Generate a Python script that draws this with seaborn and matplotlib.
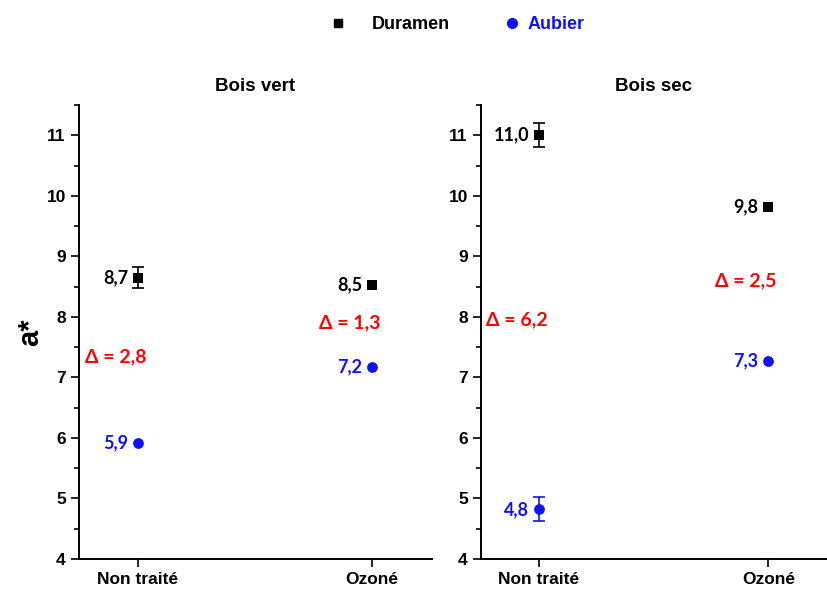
import matplotlib
matplotlib.use("Agg")
import matplotlib.pyplot as plt
from matplotlib.lines import Line2D
from matplotlib.ticker import MultipleLocator
import pandas as pd
import seaborn as sns

traitements = ["Non traité", "Ozoné"]
panneaux = ["Bois vert", "Bois sec"]

# a* values
duramen_vert = [8.65, 8.53]
duramen_vert_err = [0.18, 0.0]
aubier_vert = [5.92, 7.17]
aubier_vert_err = [0.0, 0.0]
duramen_sec = [11.0, 9.82]
duramen_sec_err = [0.2, 0.0]
aubier_sec = [4.82, 7.27]
aubier_sec_err = [0.2, 0.0]

# labels shown next to the points
lab_duramen_vert = ["8,7", "8,5"]
lab_aubier_vert = ["5,9", "7,2"]
lab_duramen_sec = ["11,0", "9,8"]
lab_aubier_sec = ["4,8", "7,3"]
delta_vert = ["2,8", "1,3"]
delta_sec = ["6,2", "2,5"]

rows = []
for panneau, dur, dur_e, aub, aub_e, ld, la, dl in [
    ("Bois vert", duramen_vert, duramen_vert_err, aubier_vert, aubier_vert_err,
     lab_duramen_vert, lab_aubier_vert, delta_vert),
    ("Bois sec", duramen_sec, duramen_sec_err, aubier_sec, aubier_sec_err,
     lab_duramen_sec, lab_aubier_sec, delta_sec),
]:
    for i, t in enumerate(traitements):
        rows.append(dict(panneau=panneau, traitement=t, pos=i, bois="Duramen",
                         a=dur[i], err=dur_e[i], label=ld[i], delta=dl[i]))
        rows.append(dict(panneau=panneau, traitement=t, pos=i, bois="Aubier",
                         a=aub[i], err=aub_e[i], label=la[i], delta=dl[i]))
df = pd.DataFrame(rows)

sns.set_style("ticks")
plt.rcParams["font.family"] = ["Liberation Sans", "DejaVu Sans"]
plt.rcParams["text.color"] = "black"
plt.rcParams["axes.labelcolor"] = "black"
plt.rcParams["axes.edgecolor"] = "black"
plt.rcParams["xtick.color"] = "black"
plt.rcParams["ytick.color"] = "black"

couleurs = {"Duramen": "black", "Aubier": "#1010ff"}
marqueurs = {"Duramen": "s", "Aubier": "o"}
tailles = {"Duramen": 45, "Aubier": 60}

fig = plt.figure(figsize=(8.27, 5.92), dpi=100)
ax1 = fig.add_axes([0.0955, 0.0557, 0.4268, 0.767])
ax2 = fig.add_axes([0.5816, 0.0557, 0.4184, 0.767])

lab_font = dict(family=["Lato", "DejaVu Sans"], fontweight="bold", fontsize=13)
delta_font = dict(family=["Lato", "DejaVu Sans"], fontweight="bold", fontsize=14)

for ax, panneau in zip([ax1, ax2], panneaux):
    sub = df[df.panneau == panneau]
    for bois in ["Duramen", "Aubier"]:
        s = sub[sub.bois == bois]
        e = s[s.err > 0]
        ax.errorbar(e.pos, e.a, yerr=e.err, fmt="none", ecolor=couleurs[bois],
                    elinewidth=1.2, capsize=4, capthick=1.2, zorder=2)
        sns.scatterplot(data=s, x="pos", y="a", ax=ax, color=couleurs[bois],
                        marker=marqueurs[bois], s=tailles[bois],
                        edgecolor=couleurs[bois], linewidth=0, zorder=3,
                        legend=False)
        for _, r in s.iterrows():
            ax.annotate(r.label, (r.pos, r.a), xytext=(-7, 0),
                        textcoords="offset points", ha="right", va="center",
                        color=couleurs[bois], **lab_font)
    for i in range(len(traitements)):
        p = sub[sub.pos == i]
        mid = p.a.mean() + 0.05
        ax.annotate("\u0394 = " + p.delta.iloc[0], (i, mid), xytext=(-16, 0),
                    textcoords="offset points", ha="center", va="center",
                    color="#ff0000", **delta_font)

    ax.set_xlim(-0.252, 1.256)
    ax.set_ylim(4, 11.5)
    ax.set_xticks(range(len(traitements)))
    ax.set_xticklabels(traitements, fontsize=12.5, fontweight="bold")
    ax.yaxis.set_major_locator(MultipleLocator(1))
    ax.yaxis.set_minor_locator(MultipleLocator(0.5))
    for lbl in ax.get_yticklabels():
        lbl.set_fontweight("bold")
        lbl.set_fontsize(12.5)
    ax.tick_params(axis="both", which="major", length=6, width=1.2)
    ax.tick_params(axis="y", which="minor", length=3.5, width=1.2)
    for sp in ["left", "bottom"]:
        ax.spines[sp].set_linewidth(1.4)
    sns.despine(ax=ax)
    ax.set_title(panneau, fontsize=13.5, fontweight="bold", pad=10)
    ax.set_xlabel("")
    ax.set_ylabel("")

ax1.set_ylabel("a*", fontsize=21, fontweight="bold", labelpad=2)

h_dur = Line2D([], [], marker="s", color="black", linestyle="none", markersize=6)
h_aub = Line2D([], [], marker="o", color="#1010ff", linestyle="none", markersize=7)
leg1 = fig.legend([h_dur], ["Duramen"], loc="center left",
                  bbox_to_anchor=(0.378, 0.958), frameon=False,
                  prop=dict(weight="bold", size=13), handletextpad=1.4,
                  handlelength=1.0)
leg2 = fig.legend([h_aub], ["Aubier"], loc="center left",
                  bbox_to_anchor=(0.588, 0.958), frameon=False,
                  prop=dict(weight="bold", size=13), handletextpad=0.4,
                  handlelength=1.0)
leg2.get_texts()[0].set_color("#1010ff")

fig.savefig("out.png", dpi=100)
